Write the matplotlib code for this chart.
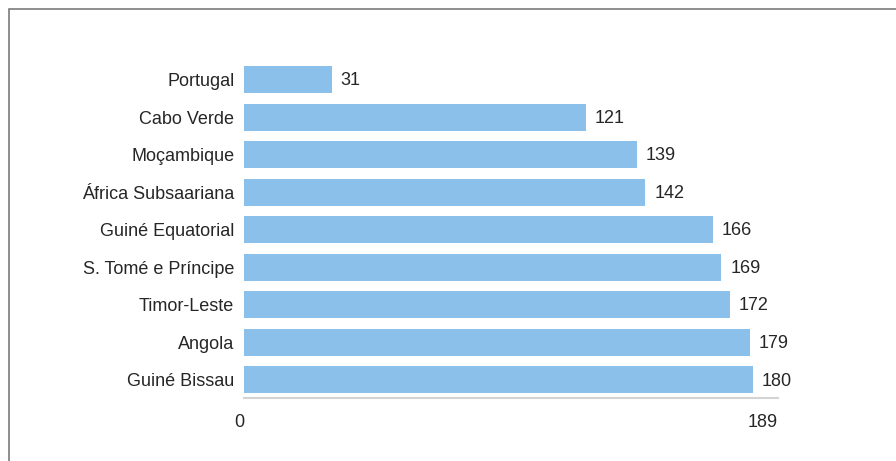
import matplotlib
matplotlib.use("Agg")
import matplotlib.pyplot as plt
from matplotlib.patches import Rectangle

plt.rcParams.update({"font.family": ["Liberation Sans", "DejaVu Sans"]})

countries = ["Portugal", "Cabo Verde", "Moçambique", "África Subsaariana",
             "Guiné Equatorial", "S. Tomé e Príncipe", "Timor-Leste", "Angola",
             "Guiné Bissau"]
values = [31, 121, 139, 142, 166, 169, 172, 179, 180]
x_ticks = [0, 189]

BAR = "#8bc0ea"
TXT = "#262626"

W, H = 896, 461
fig = plt.figure(figsize=(W / 100, H / 100), dpi=100)
ax = fig.add_axes([244 / W, 1 - 398 / H, (778 - 244) / W, (398 - 57) / H])

n = len(countries)
ypos = list(range(n - 1, -1, -1))
ax.barh(ypos, values, height=0.72, color=BAR, lw=0)
for y, v in zip(ypos, values):
    ax.annotate(str(v), (v, y), xytext=(6.5, -1), textcoords="offset points",
                ha="left", va="center", fontsize=13, color=TXT)

ax.set_xlim(0, 189)
ax.set_ylim(-0.49, n - 1 + 0.6)
ax.set_yticks(ypos)
ax.set_yticklabels(countries, fontsize=13, color=TXT)
ax.set_xticks(x_ticks)
ax.set_xticklabels([str(t) for t in x_ticks], fontsize=13, color=TXT, ha="right")
ax.tick_params(axis="y", length=0, pad=7)
ax.tick_params(axis="x", length=0, pad=11.5)
for s in ("top", "right", "left"):
    ax.spines[s].set_visible(False)
ax.spines["bottom"].set_color("#d3d3d3")
ax.spines["bottom"].set_linewidth(1.5)

# outer frame, cropped at the right and bottom
fig.patches.append(Rectangle((8.5 / W, -0.1), 1.2, (H - 9.5) / H + 0.1,
                             transform=fig.transFigure, fill=False,
                             edgecolor="#707070", lw=1.1, clip_on=False))

fig.savefig("out.png", dpi=100)
